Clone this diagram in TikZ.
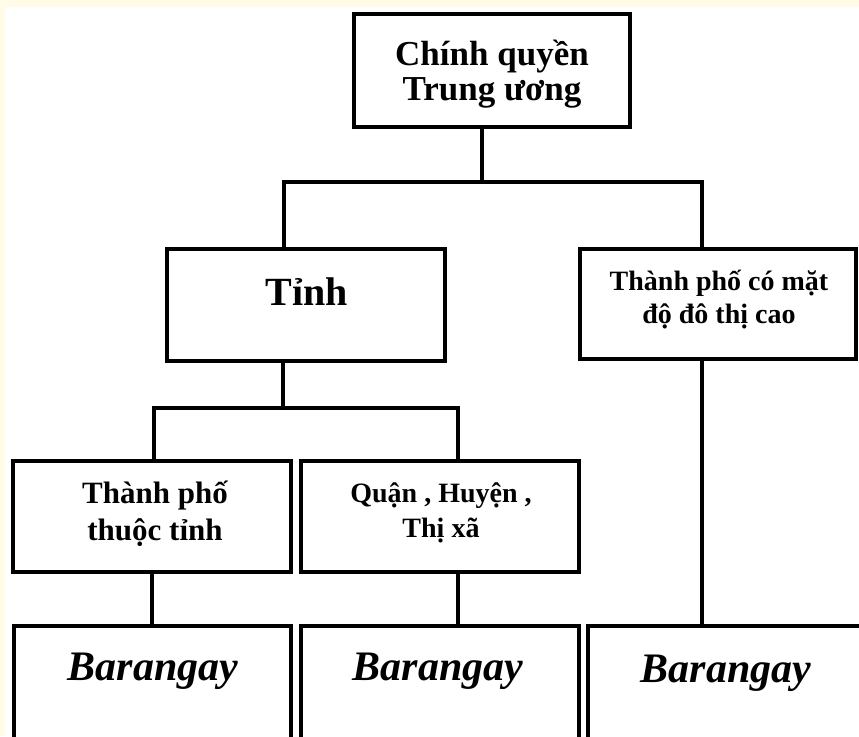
\documentclass[tikz,border=0pt]{standalone}
\usepackage{fontspec}
\setmainfont{Liberation Serif}
\definecolor{cream}{RGB}{255,251,231}
\begin{document}
\begin{tikzpicture}[x=1pt, y=-1pt,
    orgbox/.style={draw, line width=3.4pt, fill=white, inner sep=0pt},
    conn/.style={line width=3.2pt},
    boxtxt/.style={align=center, anchor=base, inner sep=0pt}]
    \useasboundingbox (0,0) rectangle (859,736);
    \clip (0,0) rectangle (859,736);
    \fill[cream] (0,0) rectangle (859,736);
    \fill[white] (5,7) rectangle (859,736);
    % boxes
    \node[orgbox, minimum width=276, minimum height=113] (cq) at (492,70.5) {};
    \node[orgbox, minimum width=278, minimum height=112] (tinh) at (306,305) {};
    \node[orgbox, minimum width=276, minimum height=110] (tpcao) at (718,304) {};
    \node[orgbox, minimum width=278, minimum height=111] (tpthuoc) at (152,516.5) {};
    \node[orgbox, minimum width=278, minimum height=111] (quan) at (440,516.5) {};
    \node[orgbox, minimum width=277, minimum height=140] (brg1) at (152.5,696) {};
    \node[orgbox, minimum width=278, minimum height=140] (brg2) at (440,696) {};
    \node[orgbox, minimum width=292, minimum height=140] (brg3) at (734,696) {};
    % texts (base = last line)
    \node[boxtxt, font=\fontsize{35}{35}\selectfont\bfseries] (cqtxt) at (492,100) {Chính quyền\\Trung ương};
    \node[boxtxt, font=\fontsize{40}{40}\selectfont\bfseries] (tinhtxt) at (307,305) {Tỉnh};
    \node[boxtxt, font=\fontsize{28}{33}\selectfont\bfseries] (tpcaotxt) at (719,323) {Thành phố có mặt\\độ đô thị cao};
    \node[boxtxt, font=\fontsize{31}{37}\selectfont\bfseries] (tpthuoctxt) at (155,540) {Thành phố\\thuộc tỉnh};
    \node[boxtxt, font=\fontsize{28}{35}\selectfont\bfseries] (quantxt) at (441,537) {Quận , Huyện ,\\Thị xã};
    \node[boxtxt, font=\fontsize{42}{42}\selectfont\bfseries\itshape] (brg1txt) at (153,680) {Barangay};
    \node[boxtxt, font=\fontsize{42}{42}\selectfont\bfseries\itshape] (brg2txt) at (438,680) {Barangay};
    \node[boxtxt, font=\fontsize{42}{42}\selectfont\bfseries\itshape] (brg3txt) at (726,682) {Barangay};
    % connectors
    \coordinate (j1) at (482,182);
    \coordinate (b1) at (284,182);
    \coordinate (b2) at (702,182);
    \coordinate (j2) at (283,408);
    \coordinate (b3) at (154,408);
    \coordinate (b4) at (458,408);
    \draw[conn] (cq.south -| j1) -- (j1);
    \draw[conn] (tinh.north -| b1) -- (b1) -- (b2) -- (tpcao.north -| b2);
    \draw[conn] (tinh.south -| j2) -- (j2);
    \draw[conn] (tpthuoc.north -| b3) -- (b3) -- (b4) -- (quan.north -| b4);
    \draw[conn] (tpthuoc.south) -- (brg1.north -| tpthuoc.south);
    \draw[conn] (quan.south -| b4) -- (brg2.north -| b4);
    \draw[conn] (tpcao.south -| b2) -- (brg3.north -| b2);
\end{tikzpicture}
\end{document}
